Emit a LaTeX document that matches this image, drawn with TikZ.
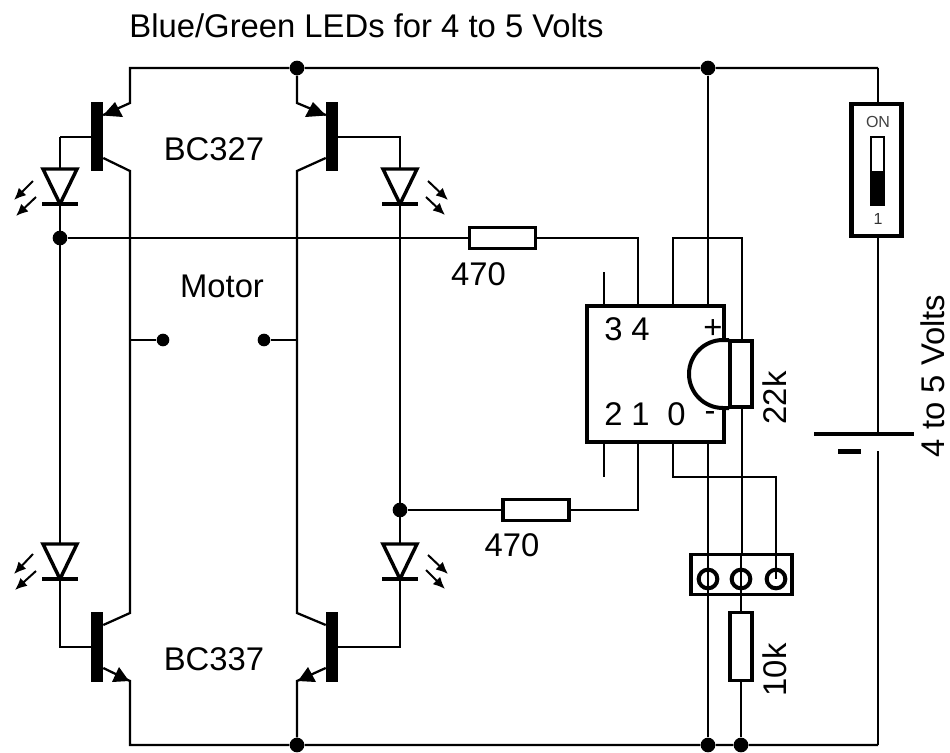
\documentclass[tikz,border=0pt]{standalone}
\usepackage{fontspec}
\setmainfont{Liberation Sans}
\usetikzlibrary{arrows.meta}
\tikzset{
  x=0.75pt,y=-0.75pt,
  wire/.style={line width=1.7pt,line join=miter},
  heavy/.style={line width=2.6pt,line join=miter},
  lab/.style={inner sep=0pt,font=\fontsize{24.6}{24.6}\selectfont,text=black},
  dot/.style={circle,fill=black,inner sep=0pt,minimum size=11pt},
  smalldot/.style={circle,fill=black,inner sep=0pt,minimum size=9.5pt},
  bar/.style={rectangle,fill=black,inner sep=0pt,minimum width=9pt,minimum height=52pt},
  reshoriz/.style={rectangle,draw=black,fill=white,line width=2.6pt,inner sep=0pt,minimum width=49.5pt,minimum height=16pt},
  resvert/.style={rectangle,draw=black,fill=white,line width=2.8pt,inner sep=0pt,minimum width=16.5pt,minimum height=49pt},
  ray/.style={line width=1.5pt,-{Latex[length=9pt,width=8pt]}},
  hole/.style={circle,draw=black,line width=3pt,inner sep=0pt,minimum size=14pt},
}
\newcommand{\ledsym}[3]{% name, x, y of bar
  \coordinate (#1k) at (#2,#3);
  \coordinate (#1a) at (#2,#3-35);
  \filldraw[fill=white,draw=black,line width=2.6pt,line join=miter] (#2-17,#3-35) -- (#2+17,#3-35) -- (#1k) -- cycle;
  \draw[line width=2.8pt] (#2-18,#3) -- (#2+18,#3);
}
\begin{document}
\begin{tikzpicture}
\useasboundingbox[fill=white] (0,0) rectangle (950,753);

% junctions
\node[dot] (t1) at (297,68) {};
\node[dot] (t2) at (708,68) {};
\coordinate (tl) at (130,68);
\coordinate (tr) at (878,68);
\node[dot] (b1) at (297,745) {};
\node[dot] (b2) at (708,745) {};
\node[dot] (b3) at (741,745) {};
\coordinate (bl) at (130,745);
\coordinate (br) at (878,745);
\node[dot] (j1) at (60,238) {};
\node[dot] (j2) at (400,510) {};
\node[smalldot] (m1) at (163,340) {};
\node[smalldot] (m2) at (264,340) {};

% transistor bars
\node[bar] (q1) at (97,136.5) {};
\node[bar] (q2) at (332,136.5) {};
\node[bar] (q3) at (97,647) {};
\node[bar] (q4) at (332,647) {};

% rails
\draw[wire] (q1.east |- 0,115) -- (130,103) -- (tl) -- (t1) -- (t2) -- (tr);
\draw[wire] (q2.west |- 0,115) -- (297,103) -- (t1);
\draw[wire] (q3.east |- 0,668) -- (130,681) -- (bl) -- (b1) -- (b2) -- (b3) -- (br);
\draw[wire] (q4.west |- 0,668) -- (297,681) -- (b1);
\draw[wire] (q1.east |- 0,158) -- (130,171) -- (130,613) -- (q3.east |- 0,625);
\draw[wire] (q2.west |- 0,158) -- (297,171) -- (297,613) -- (q4.west |- 0,625);
\draw[wire] (130,340) -- (m1);
\draw[wire] (297,340) -- (m2);

% emitter arrows
\fill (103,115.5) -- (115,102) -- (123,117) -- cycle;
\fill (326,115.5) -- (313,102) -- (305,117) -- cycle;
\fill (129,681) -- (119,667) -- (112,682) -- cycle;
\fill (298,681) -- (308,667) -- (316,682) -- cycle;

% IC pins
\coordinate (icpa) at (604,306);
\coordinate (icpb) at (638,306);
\coordinate (icpc) at (673,306);
\coordinate (icpd) at (708,306);
\coordinate (icqa) at (604,442);
\coordinate (icqb) at (638,442);
\coordinate (icqc) at (673,442);
\coordinate (icqd) at (708,442);

% resistors
\node[reshoriz] (r1) at (502.5,238) {};
\node[reshoriz] (r2) at (536,510) {};

% long wires
\draw[wire] (j1) -- (r1.west);
\draw[wire] (r1.east) -- (638,238) -- (icpb);
\draw[wire] (j2) -- (r2.west);
\draw[wire] (r2.east) -- (638,510) -- (icqb);
\draw[wire] (604,272) -- (icpa);
\draw[wire] (icqa) -- (604,477);
\draw[wire] (t2) -- (icpd);
\draw[wire] (icqd) -- (b2);
\draw[wire] (icpc) -- (673,238) -- (742,238) -- (742,345);
\draw[wire] (742,400) -- (742,553);
\draw[wire] (741,682) -- (b3);

% connector
\node[rectangle,draw=black,fill=white,line width=2.8pt,inner sep=0pt,minimum width=75.5pt,minimum height=30pt] (conn) at (741.5,574.5) {};
\node[hole] (h1) at (708,579) {};
\node[hole] (h2) at (741,579) {};
\node[hole] (h3) at (776,579) {};
\draw[wire] (708,553) -- (708,600);
\draw[wire] (741,553) -- (741,611);
\draw[wire] (icqc) -- (673,477) -- (776,477) -- (h3.center);

% left and right LED columns, bases
\draw[wire] (60,137) -- (60,640);
\draw[wire] (q1.west |- 0,137) -- (60,137);
\draw[wire] (q3.west |- 0,647) -- (60,647) -- (60,579);
\draw[wire] (q2.east |- 0,137) -- (400,137) -- (400,647) -- (q4.east |- 0,647);

% IC body
\draw[heavy,line width=3.3pt,fill=white] (587,306) rectangle (724,442);
\node[lab] (n3) at (613.5,329) {3};
\node[lab] (n4) at (640.5,329) {4};
\node[lab] (n2) at (613.5,414) {2};
\node[lab] (n1) at (640.5,414) {1};
\node[lab] (n0) at (676.5,414) {0};
\node[lab] (plus) at (713,329) {+};
\node[lab] (minus) at (710,416) {-};

% sensor and 22k
\filldraw[fill=white,draw=black,line width=3pt] (729,340) -- (723,340) arc[start angle=270,end angle=90,radius=34] -- (729,408);
\node[resvert,minimum height=50pt] (r22) at (741,374) {};
\node[lab,rotate=90] (l22) at (775,398) {22k};

% 10k
\node[resvert,minimum height=51pt] (r10) at (741,646.5) {};
\node[lab,rotate=90] (l10) at (775,670) {10k};

% switch
\node[rectangle,draw=black,fill=white,line width=3.7pt,inner sep=0pt,minimum width=37pt,minimum height=99pt] (sw) at (876.5,170) {};
\draw[wire] (tr) -- (sw.north -| tr);
\coordinate (batA) at (878,434);
\coordinate (batB) at (878,451);
\draw[wire] (sw.south -| tr) -- (batA);
\draw[wire] (batB) -- (br);
\draw[line width=2.8pt] (814,434) -- (914,434);
\draw[line width=3.2pt] (838,451.5) -- (861,451.5);
\node[inner sep=0pt,font=\fontsize{12}{12}\selectfont,text=black!75] (on) at (878,122) {ON};
\node[inner sep=0pt,font=\fontsize{12}{12}\selectfont,text=black!80] (one) at (878,219) {1};
\draw[line width=1.5pt,fill=white] (871,137) rectangle (884,205);
\fill (871,171) rectangle (884,205);

% LEDs
\ledsym{la}{60}{204}
\ledsym{lb}{400}{204}
\ledsym{lc}{60}{579}
\ledsym{ld}{400}{579}
\draw[ray] (33,181) -- (14,200);
\draw[ray] (36,197) -- (16,216);
\draw[ray] (428,181) -- (448,200);
\draw[ray] (426,197) -- (445,215);
\draw[ray] (33,554) -- (14,574);
\draw[ray] (36,571) -- (15,590);
\draw[ray] (428,555) -- (448,574);
\draw[ray] (426,570) -- (445,589);

% labels
\node[lab] (title) at (366.5,26) {Blue/Green LEDs for 4 to 5 Volts};
\node[lab] (bc1) at (214,149) {BC327};
\node[lab] (bc2) at (214,659) {BC337};
\node[lab] (mot) at (222,286) {Motor};
\node[lab] (ra) at (478.5,274) {470};
\node[lab] (rb) at (512,545) {470};
\node[lab,rotate=90] (volts) at (933,376) {4 to 5 Volts};
\end{tikzpicture}
\end{document}
